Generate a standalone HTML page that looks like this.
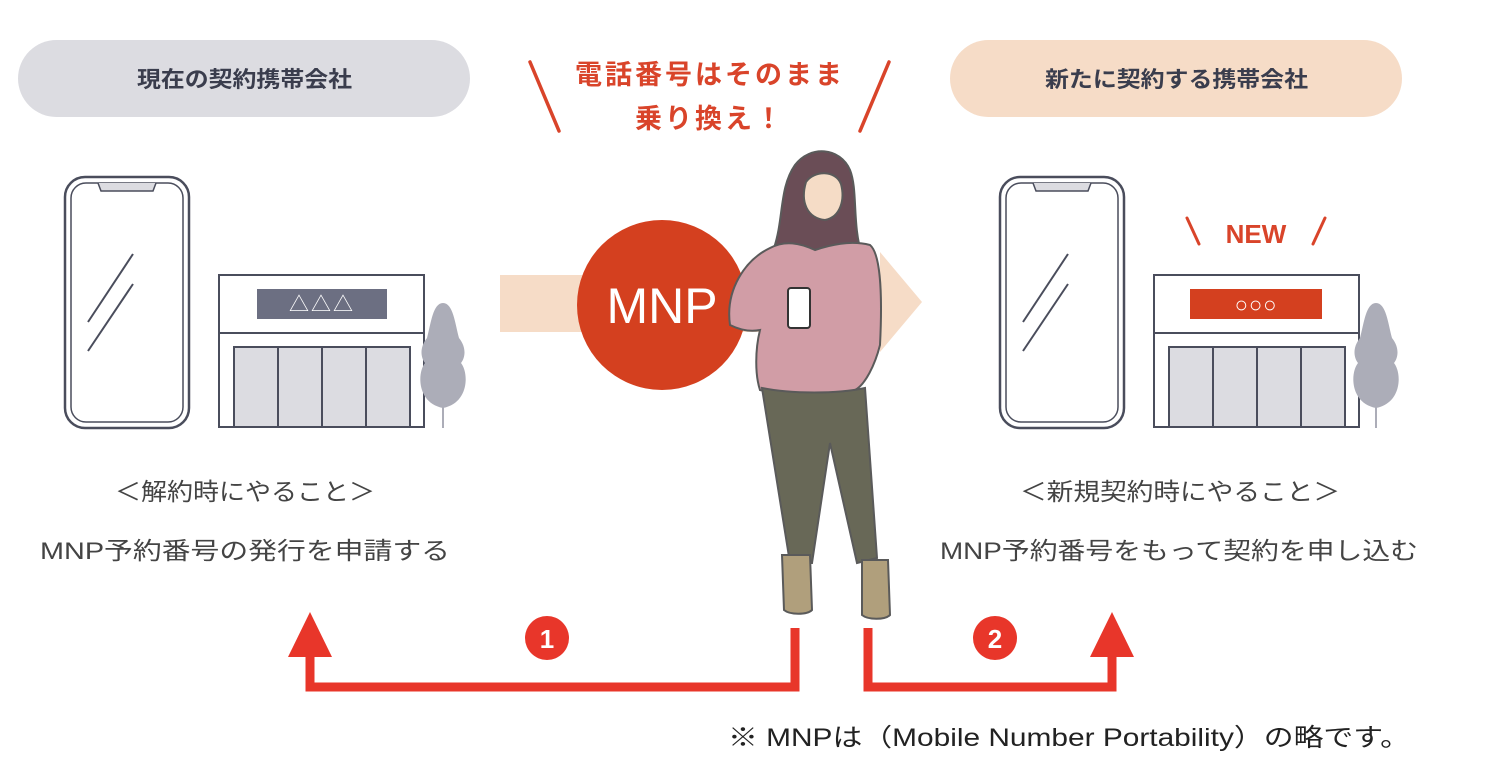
<!DOCTYPE html>
<html><head><meta charset="utf-8"><style>
html,body{margin:0;padding:0;background:#fff;}
svg{display:block;}
text{font-family:"Liberation Sans","Noto Sans CJK JP",sans-serif;}
</style></head><body>
<svg width="1486" height="763" viewBox="0 0 1486 763" xmlns="http://www.w3.org/2000/svg">
<rect x="18" y="40" width="452" height="77" rx="38.5" fill="#dcdce1"/>
<text x="137" y="87" font-size="22" font-weight="bold" fill="#3a3d4d" textLength="215" lengthAdjust="spacingAndGlyphs">現在の契約携帯会社</text>
<rect x="950" y="40" width="452" height="77" rx="38.5" fill="#f6dcc7"/>
<text x="1045" y="87" font-size="22" font-weight="bold" fill="#3a3d4d" textLength="263" lengthAdjust="spacingAndGlyphs">新たに契約する携帯会社</text>
<g stroke="#d9442a" stroke-width="3.5" stroke-linecap="round">
<line x1="530" y1="62" x2="559" y2="131"/><line x1="889" y1="62" x2="860" y2="131"/>
</g>
<text x="710" y="84" font-size="27" font-weight="bold" fill="#d9442a" text-anchor="middle" letter-spacing="3">電話番号はそのまま</text>
<text x="710" y="128" font-size="27" font-weight="bold" fill="#d9442a" text-anchor="middle" letter-spacing="3">乗り換え！</text>
<polygon points="500,275 880,275 880,252 922,302 880,352 880,332 500,332" fill="#f6dcc7"/>
<circle cx="662" cy="305" r="85" fill="#d4401f"/>
<text x="662" y="323" font-size="50" fill="#fff" text-anchor="middle">MNP</text>
<g fill="none" stroke="#4a4d5c">
<rect x="65" y="177" width="124" height="251" rx="20" stroke-width="2.5"/>
<rect x="71" y="183" width="112" height="239" rx="15" stroke-width="1.5"/>
<path d="M98 183 l3 8 h52 l3 -8" stroke-width="1.5" fill="#dcdce1"/>
<line x1="88" y1="322" x2="133" y2="254" stroke-width="2"/>
<line x1="88" y1="351" x2="133" y2="284" stroke-width="2"/>
</g>
<g stroke="#4a4d5c" stroke-width="2">
<rect x="219" y="275" width="205" height="152" fill="#fff"/>
<line x1="219" y1="333" x2="424" y2="333"/>
<rect x="234" y="347" width="176" height="80" fill="#dcdce1"/>
<line x1="278" y1="347" x2="278" y2="427"/><line x1="322" y1="347" x2="322" y2="427"/><line x1="366" y1="347" x2="366" y2="427"/>
</g>
<rect x="257" y="289" width="130" height="30" fill="#6c6f82"/>
<text x="322" y="311" font-size="20" fill="#fff" text-anchor="middle" letter-spacing="2">△△△</text>
<path d="M443 303 c-10 0 -12 20 -16 35 c-8 10 -6 20 -2 25 c-8 10 -8 40 18 45 c26 -5 26 -35 18 -45 c4 -5 6 -15 -2 -25 c-4 -15 -6 -35 -16 -35z" fill="#acadb8"/>
<line x1="443" y1="400" x2="443" y2="428" stroke="#acadb8" stroke-width="2"/>
<g fill="none" stroke="#4a4d5c">
<rect x="1000" y="177" width="124" height="251" rx="20" stroke-width="2.5"/>
<rect x="1006" y="183" width="112" height="239" rx="15" stroke-width="1.5"/>
<path d="M1033 183 l3 8 h52 l3 -8" stroke-width="1.5" fill="#dcdce1"/>
<line x1="1023" y1="322" x2="1068" y2="254" stroke-width="2"/>
<line x1="1023" y1="351" x2="1068" y2="284" stroke-width="2"/>
</g>
<g stroke="#4a4d5c" stroke-width="2">
<rect x="1154" y="275" width="205" height="152" fill="#fff"/>
<line x1="1154" y1="333" x2="1359" y2="333"/>
<rect x="1169" y="347" width="176" height="80" fill="#dcdce1"/>
<line x1="1213" y1="347" x2="1213" y2="427"/><line x1="1257" y1="347" x2="1257" y2="427"/><line x1="1301" y1="347" x2="1301" y2="427"/>
</g>
<rect x="1190" y="289" width="132" height="30" fill="#d4401f"/>
<text x="1256" y="312" font-size="22" fill="#fff" text-anchor="middle" letter-spacing="1">○○○</text>
<path d="M1376 303 c-10 0 -12 20 -16 35 c-8 10 -6 20 -2 25 c-8 10 -8 40 18 45 c26 -5 26 -35 18 -45 c4 -5 6 -15 -2 -25 c-4 -15 -6 -35 -16 -35z" fill="#acadb8"/>
<line x1="1376" y1="400" x2="1376" y2="428" stroke="#acadb8" stroke-width="2"/>
<g stroke="#d9442a" stroke-width="3" stroke-linecap="round"><line x1="1187" y1="218" x2="1199" y2="244"/><line x1="1325" y1="218" x2="1313" y2="244"/></g>
<text x="1256" y="243" font-size="26" font-weight="bold" fill="#d9442a" text-anchor="middle">NEW</text>
<!-- woman -->
<g stroke="#5a5a5a" stroke-width="2">
<path d="M795 165 c15 -20 45 -18 55 5 c8 20 2 55 12 85 c-15 15 -40 10 -48 0 l-12 5 c-10 -5 -22 -8 -28 -12 c10 -30 5 -60 21 -83z" fill="#6a4d56"/>
<path d="M806 182 c8 -12 30 -12 35 2 c4 15 0 33 -16 36 c-18 -2 -25 -18 -19 -38z" fill="#f5dcc6"/>
<path d="M770 248 c15 -8 30 -5 45 2 c15 -5 35 -10 55 -5 c12 10 12 60 10 100 c-5 20 -15 40 -25 45 c-25 6 -70 6 -95 0 c-5 -15 -5 -40 0 -60 c-10 2 -20 0 -30 -5 c-5 -35 15 -65 40 -77z" fill="#d19da6"/>
<path d="M762 388 c30 6 75 6 103 0 l12 170 l-20 5 l-27 -120 l-18 120 l-22 0 z" fill="#686857"/>
<path d="M782 555 h28 l2 55 c-5 5 -22 5 -28 0z" fill="#b09f7c"/>
<path d="M862 560 h26 l2 55 c-5 5 -22 5 -28 0z" fill="#b09f7c"/>
<rect x="788" y="288" width="22" height="40" rx="3" fill="#fff" stroke="#333"/>
</g>
<text x="115" y="500" font-size="24" fill="#444" textLength="260" lengthAdjust="spacingAndGlyphs">＜解約時にやること＞</text>
<text x="40" y="559" font-size="24" fill="#444" textLength="410" lengthAdjust="spacingAndGlyphs">MNP予約番号の発行を申請する</text>
<text x="1020" y="500" font-size="24" fill="#444" textLength="320" lengthAdjust="spacingAndGlyphs">＜新規契約時にやること＞</text>
<text x="940" y="559" font-size="24" fill="#444" textLength="478" lengthAdjust="spacingAndGlyphs">MNP予約番号をもって契約を申し込む</text>
<g fill="none" stroke="#e8362a" stroke-width="9">
<polyline points="795,628 795,687 310,687 310,650"/>
<polyline points="868,628 868,687 1112,687 1112,650"/>
</g>
<polygon points="310,612 288,657 332,657" fill="#e8362a"/>
<polygon points="1112,612 1090,657 1134,657" fill="#e8362a"/>
<circle cx="547" cy="638" r="22" fill="#e8362a"/>
<text x="547" y="648" font-size="26" font-weight="bold" fill="#fff" text-anchor="middle">1</text>
<circle cx="995" cy="638" r="22" fill="#e8362a"/>
<text x="995" y="648" font-size="26" font-weight="bold" fill="#fff" text-anchor="middle">2</text>
<text x="728" y="746" font-size="25" fill="#222" textLength="682" lengthAdjust="spacingAndGlyphs">※ MNPは（Mobile Number Portability）の略です。</text>
</svg>
</body></html>
